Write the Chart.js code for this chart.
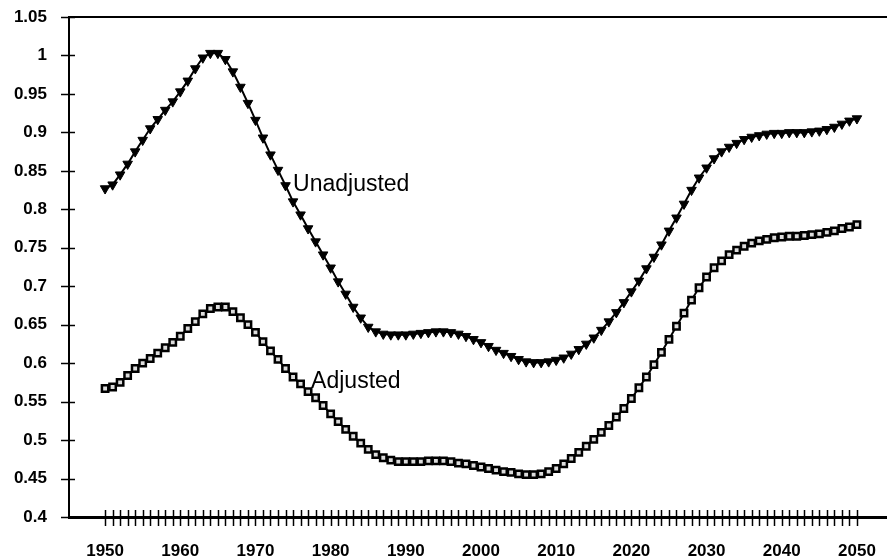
<!DOCTYPE html>
<html>
<head>
<meta charset="utf-8">
<script src="https://cdn.jsdelivr.net/npm/chart.js@4.4.1/dist/chart.umd.min.js"></script>
<style>
  html, body { margin: 0; padding: 0; background: #fff; }
  canvas { display: block; }
</style>
</head>
<body>
<canvas id="chart" width="887" height="559"></canvas>
<script>
// annual data, 1950 to 2050
const years = Array.from({ length: 101 }, (_, i) => 1950 + i);

const unadjusted = [
  0.827, 0.832, 0.845, 0.859, 0.875, 0.890, 0.905, 0.917, 0.929, 0.940,
  0.953, 0.967, 0.983, 0.997, 1.003, 1.003, 0.995, 0.979, 0.959, 0.938,
  0.916, 0.893, 0.871, 0.851, 0.831, 0.810, 0.793, 0.775, 0.758, 0.741,
  0.724, 0.706, 0.690, 0.673, 0.659, 0.647, 0.641, 0.638, 0.637, 0.637,
  0.637, 0.638, 0.639, 0.640, 0.641, 0.641, 0.640, 0.638, 0.635, 0.631,
  0.627, 0.622, 0.617, 0.613, 0.609, 0.605, 0.602, 0.601, 0.601, 0.602,
  0.604, 0.607, 0.612, 0.618, 0.625, 0.633, 0.643, 0.654, 0.666, 0.679,
  0.693, 0.707, 0.723, 0.738, 0.754, 0.772, 0.789, 0.807, 0.825, 0.841,
  0.854, 0.866, 0.875, 0.881, 0.886, 0.891, 0.894, 0.896, 0.898, 0.899,
  0.899, 0.900, 0.900, 0.900, 0.901, 0.902, 0.904, 0.907, 0.911, 0.915,
  0.918
];

const adjusted = [
  0.567, 0.569, 0.575, 0.584, 0.593, 0.600, 0.606, 0.613, 0.620, 0.627,
  0.635, 0.645, 0.654, 0.664, 0.671, 0.673, 0.673, 0.667, 0.659, 0.650,
  0.640, 0.628, 0.616, 0.605, 0.593, 0.582, 0.573, 0.563, 0.555, 0.545,
  0.534, 0.524, 0.514, 0.505, 0.496, 0.488, 0.481, 0.477, 0.474, 0.472,
  0.472, 0.472, 0.472, 0.473, 0.473, 0.473, 0.472, 0.470, 0.469, 0.467,
  0.465, 0.463, 0.461, 0.459, 0.458, 0.456, 0.455, 0.455, 0.456, 0.459,
  0.463, 0.469, 0.476, 0.484, 0.492, 0.501, 0.510, 0.519, 0.530, 0.541,
  0.554, 0.568, 0.582, 0.598, 0.614, 0.631, 0.648, 0.665, 0.682, 0.698,
  0.712, 0.724, 0.733, 0.741, 0.747, 0.752, 0.756, 0.759, 0.761, 0.763,
  0.764, 0.765, 0.765, 0.766, 0.767, 0.768, 0.770, 0.772, 0.775, 0.777,
  0.780
];

const xTickLabels = [1950, 1960, 1970, 1980, 1990, 2000, 2010, 2020, 2030, 2040, 2050];
const yTicks = [0.4, 0.45, 0.5, 0.55, 0.6, 0.65, 0.7, 0.75, 0.8, 0.85, 0.9, 0.95, 1, 1.05];

// series names written next to the curves
const curveLabels = [
  { text: 'Unadjusted', year: 1975.0, value: 0.832 },
  { text: 'Adjusted', year: 1977.4, value: 0.576 }
];

const FONT = "'Liberation Sans', Arial, sans-serif";

const toPoints = (vals) => vals.map((v, i) => ({ x: years[i], y: v }));

// keep the plot area where the reference has it
function fixBox(width, height) {
  return (scale) => {
    if (width) scale.width = width;
    if (height) scale.height = height;
    scale.paddingTop = 0;
    scale.paddingBottom = 0;
    scale.paddingLeft = 0;
    scale.paddingRight = 0;
  };
}

// ticks crossing the axes, top border and curve labels
const decorations = {
  id: 'decorations',
  afterDraw(chart) {
    const ctx = chart.ctx;
    const area = chart.chartArea;
    const xs = chart.scales.x;
    const ys = chart.scales.y;
    ctx.save();
    ctx.strokeStyle = '#000';

    ctx.lineWidth = 2;
    ctx.beginPath();
    ctx.moveTo(area.left, area.top);
    ctx.lineTo(area.right, area.top);
    ctx.stroke();

    ctx.lineWidth = 1.5;
    yTicks.forEach(v => {
      const y = Math.round(ys.getPixelForValue(v)) + 0.5;
      ctx.beginPath();
      ctx.moveTo(area.left - 8, y);
      ctx.lineTo(area.left + 6, y);
      ctx.stroke();
    });

    years.forEach(yr => {
      const x = Math.round(xs.getPixelForValue(yr)) + 0.5;
      ctx.beginPath();
      ctx.moveTo(x, area.bottom - 7);
      ctx.lineTo(x, area.bottom + 9);
      ctx.stroke();
    });

    ctx.fillStyle = '#000';
    ctx.font = '23px ' + FONT;
    ctx.textAlign = 'left';
    ctx.textBaseline = 'middle';
    curveLabels.forEach(l => {
      ctx.fillText(l.text, xs.getPixelForValue(l.year), ys.getPixelForValue(l.value));
    });
    ctx.restore();
  }
};

new Chart(document.getElementById('chart'), {
  type: 'line',
  data: {
    datasets: [
      {
        label: 'Unadjusted',
        data: toPoints(unadjusted),
        borderColor: '#000',
        borderWidth: 2,
        backgroundColor: '#000',
        pointStyle: 'triangle',
        pointRotation: 180,
        pointRadius: 5.5,
        pointBorderWidth: 1,
        pointBackgroundColor: '#000',
        pointBorderColor: '#000',
        tension: 0
      },
      {
        label: 'Adjusted',
        data: toPoints(adjusted),
        borderColor: '#000',
        borderWidth: 2,
        backgroundColor: '#ddd',
        pointStyle: 'rect',
        pointRadius: 4.5,
        pointBorderWidth: 2.5,
        pointBackgroundColor: '#ddd',
        pointBorderColor: '#000',
        tension: 0
      }
    ]
  },
  options: {
    responsive: false,
    animation: false,
    layout: { autoPadding: false, padding: { top: 17, right: 0, left: 0, bottom: 0 } },
    plugins: {
      legend: { display: false },
      tooltip: { enabled: false }
    },
    scales: {
      x: {
        type: 'linear',
        min: 1945.2,
        max: 2054,
        afterFit: fixBox(0, 42),
        afterBuildTicks(scale) { scale.ticks = xTickLabels.map(v => ({ value: v })); },
        grid: { display: false, drawTicks: false },
        border: { display: true, color: '#000', width: 3 },
        ticks: {
          padding: 24,
          color: '#000',
          maxRotation: 0,
          autoSkip: false,
          font: { family: FONT, size: 17, weight: 'bold' },
          callback: v => String(v)
        }
      },
      y: {
        type: 'linear',
        min: 0.4,
        max: 1.05,
        afterFit: fixBox(69, 0),
        afterBuildTicks(scale) { scale.ticks = yTicks.map(v => ({ value: v })); },
        grid: { display: false, drawTicks: false },
        border: { display: true, color: '#000', width: 2 },
        ticks: {
          padding: 22,
          color: '#000',
          autoSkip: false,
          font: { family: FONT, size: 17, weight: 'bold' },
          callback: v => String(Math.round(v * 100) / 100)
        }
      }
    }
  },
  plugins: [decorations]
});
</script>
</body>
</html>
